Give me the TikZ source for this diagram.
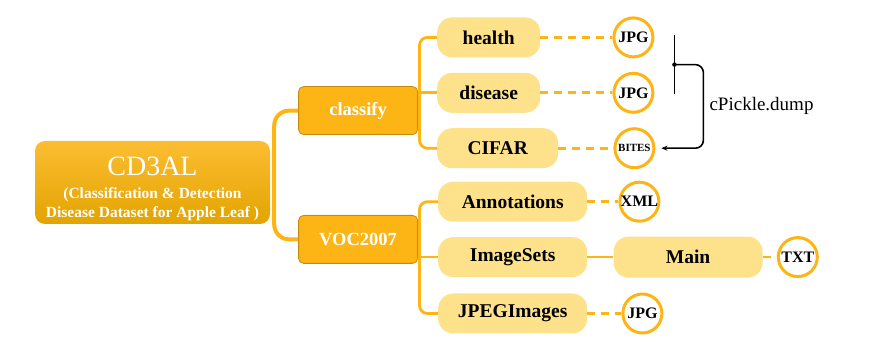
\documentclass[tikz,border=0pt]{standalone}
\usepackage{fontspec}
\setmainfont{Liberation Serif}
\usepackage{tikz}
\usetikzlibrary{arrows.meta,positioning,calc}
\usepackage{xcolor}
\definecolor{leafgold}{HTML}{FDB515}
\definecolor{leafdark}{HTML}{C48B0E}
\definecolor{leaflight}{HTML}{FDE18B}
\definecolor{leaftop}{HTML}{FCBD33}
\definecolor{leafbottom}{HTML}{E2A400}
\tikzset{
    leafroot/.style={rounded corners=10pt, top color=leaftop, bottom color=leafbottom, text=white, align=center, minimum width=235pt, minimum height=83pt, inner sep=0pt, font=\bfseries\fontsize{15.5}{19}\selectfont},
    leafset/.style={draw=leafdark, line width=0.8pt, rounded corners=5pt, fill=leafgold, text=white, font=\bfseries\fontsize{18.5}{20}\selectfont, minimum width=119pt, minimum height=48pt},
    leafdir/.style={rounded corners=15pt, fill=leaflight, font=\bfseries\fontsize{19.5}{21}\selectfont, minimum width=103pt, minimum height=40pt},
    leaffile/.style={circle, draw=leafgold, line width=3pt, fill=white, minimum size=39pt, inner sep=0pt, font=\bfseries\fontsize{16}{18}\selectfont},
    leaftrunk/.style={leafgold, line width=4pt, rounded corners=15pt},
    leafbranch/.style={leafgold, line width=2.8pt, rounded corners=8pt},
    leaflink/.style={leafgold, line width=2.8pt, dash pattern=on 8pt off 6pt},
    leafarrow/.style={-{Stealth[length=6pt,width=5pt]}, line width=1.6pt, rounded corners=8pt}
}

\begin{document}
\begin{tikzpicture}[x=1pt, y=1pt]
        \useasboundingbox (0,0) rectangle (876,-344);

        \node[leafroot] (root) at (152.5,-182.5) {\rule{0pt}{30.5pt}{\mdseries\fontsize{28}{28}\selectfont CD3AL}\\[4pt](Classification \& Detection\\Disease Dataset for Apple Leaf )};
        \node[leafset, above right=47.5pt and 28pt of root.east] (classify) {classify};
        \node[leafset, below right=32.5pt and 28pt of root.east] (voc) {VOC2007};

        \node[leafdir, above right=53pt and 19pt of classify.east] (health) {health};
        \node[leafdir, below=15pt of health] (disease) {disease};
        \node[leafdir, minimum width=121pt, below=15pt of disease.south west, anchor=north west] (cifar) {CIFAR};

        \node[leafdir, minimum width=149pt, above right=17.5pt and 20pt of voc.east] (annot) {Annotations};
        \node[leafdir, minimum width=149pt, below=15pt of annot] (imgsets) {ImageSets};
        \node[leafdir, minimum width=149pt, below=16pt of imgsets] (jpegimg) {JPEGImages};
        \node[leafdir, minimum width=149pt, minimum height=41pt, right=26pt of imgsets] (main) {Main};

        \node[leaffile, right=72pt of health] (jpga) {JPG};
        \node[leaffile, right=72pt of disease] (jpgb) {JPG};
        \node[leaffile, right=55pt of cifar, font=\bfseries\fontsize{11}{12}\selectfont] (bites) {BITES};
        \node[leaffile, right=31pt of annot] (xml) {XML};
        \node[leaffile, right=14pt of main] (txt) {TXT};
        \node[leaffile, right=34pt of jpegimg] (jpgc) {JPG};

        % forks of the tree
        \coordinate (rootfork) at ([xshift=4pt]root.east);
        \coordinate (classfork) at ([xshift=1.5pt]classify.east);
        \coordinate (vocfork) at ([xshift=1.5pt]voc.east);

        \draw[leaftrunk] (classify.west) -| (rootfork) |- (voc.west);
        \draw[leafbranch] (health.west) -| (classfork) |- (cifar.west);
        \draw[leafbranch] (classfork |- disease.west) -- (disease.west);
        \draw[leafbranch] (annot.west) -| (vocfork) |- (jpegimg.west);
        \draw[leafbranch] (vocfork |- imgsets.west) -- (imgsets.west);
        \draw[leafbranch] (imgsets) -- (main);

        \draw[leaflink] (health) -- (jpga);
        \draw[leaflink] (disease) -- (jpgb);
        \draw[leaflink] (cifar) -- (bites);
        \draw[leaflink] (annot) -- (xml);
        \draw[leaflink] (main) -- (txt);
        \draw[leaflink] (jpegimg) -- (jpgc);

        % pickled images go into the BITES file
        \coordinate (bartop) at ($(jpga.east)+(20pt,2pt)$);
        \coordinate (barbot) at ($(jpgb.east)+(20pt,-1pt)$);
        \draw[line width=1.6pt] (bartop) -- (barbot);
        \fill ($(bartop)!0.5!(barbot)$) coordinate (pickdot) circle (2.2pt);
        \draw[leafarrow, shorten >=6pt] (pickdot) -- ++(29pt,0) |- node[pos=0.25, right=2pt, font=\fontsize{19}{21}\selectfont] {cPickle.dump} (bites.east);
    \end{tikzpicture}
\end{document}
